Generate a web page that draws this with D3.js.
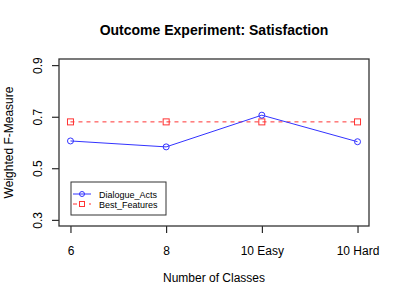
<!DOCTYPE html>
<html>
<head>
<meta charset="utf-8">
<script src="https://cdn.jsdelivr.net/npm/d3@7"></script>
<style>
  body { margin: 0; background: #fff; }
  text { font-family: "Liberation Sans", Arial, sans-serif; fill: #000; }
</style>
</head>
<body>
<svg id="chart"></svg>
<script>
// data
var classes = ["6", "8", "10 Easy", "10 Hard"];
var dialogueActs = [0.606, 0.583, 0.706, 0.603];
var bestFeatures = [0.680, 0.680, 0.680, 0.680];
var yTicks = [0.3, 0.5, 0.7, 0.9];

var width = 400, height = 300;
var margin = {top: 59, right: 31, bottom: 74, left: 59};
var w = width - margin.left - margin.right,
    h = height - margin.top - margin.bottom;

var svg = d3.select("#chart")
  .attr("width", width)
  .attr("height", height);

var g = svg.append("g")
  .attr("transform", "translate(" + margin.left + "," + margin.top + ")");

// R style: 4% padding on each side of the data range
var x = d3.scaleLinear().domain([1 - 0.12, 4 + 0.12]).range([0, w]);
var y = d3.scaleLinear().domain([0.3 - 0.024, 0.9 + 0.024]).range([h, 0]);

// x axis
var xAxis = g.append("g")
  .attr("transform", "translate(0," + h + ")")
  .call(d3.axisBottom(x)
    .tickValues([1, 2, 3, 4])
    .tickFormat(function (d) { return classes[d - 1]; })
    .tickSize(7)
    .tickPadding(13));
xAxis.select(".domain").remove();
xAxis.selectAll("text").style("font-size", "12px");

// y axis, labels rotated like R's default
var yAxis = g.append("g")
  .call(d3.axisLeft(y)
    .tickValues(yTicks)
    .tickFormat(d3.format(".1f"))
    .tickSize(7)
    .tickPadding(0));
yAxis.select(".domain").remove();
yAxis.selectAll("text")
  .style("font-size", "12px")
  .attr("text-anchor", "middle")
  .attr("x", 0)
  .attr("dy", 0)
  .attr("transform", "translate(-17,0) rotate(-90)");

// plot box
g.append("rect")
  .attr("x", 0).attr("y", 0)
  .attr("width", w).attr("height", h)
  .attr("fill", "none")
  .attr("stroke", "#333")
  .attr("stroke-width", 1.3);

// lines
var line = d3.line()
  .x(function (d, i) { return x(i + 1); })
  .y(function (d) { return y(d); });

g.append("path")
  .datum(bestFeatures)
  .attr("d", line)
  .attr("fill", "none")
  .attr("stroke", "#ff3333")
  .attr("stroke-dasharray", "4,4");

g.append("path")
  .datum(dialogueActs)
  .attr("d", line)
  .attr("fill", "none")
  .attr("stroke", "#3333ff");

g.selectAll(".sq")
  .data(bestFeatures)
  .enter()
  .append("rect")
    .attr("x", function (d, i) { return x(i + 1) - 3; })
    .attr("y", function (d) { return y(d) - 3; })
    .attr("width", 6).attr("height", 6)
    .attr("fill", "none")
    .attr("stroke", "#ff3333");

g.selectAll(".dot")
  .data(dialogueActs)
  .enter()
  .append("circle")
    .attr("cx", function (d, i) { return x(i + 1); })
    .attr("cy", function (d) { return y(d); })
    .attr("r", 3)
    .attr("fill", "none")
    .attr("stroke", "#3333ff");

// legend
var legend = svg.append("g").attr("transform", "translate(71,182)");
legend.append("rect")
  .attr("width", 95).attr("height", 33)
  .attr("fill", "#fff")
  .attr("stroke", "#333");

var leg = [
  {name: "Dialogue_Acts", color: "#3333ff", dash: null, shape: "circle"},
  {name: "Best_Features", color: "#ff3333", dash: "4,4", shape: "square"}
];
leg.forEach(function (d, i) {
  var yy = 12 + i * 10;
  legend.append("line")
    .attr("x1", 2).attr("x2", 20)
    .attr("y1", yy).attr("y2", yy)
    .attr("stroke", d.color)
    .attr("stroke-dasharray", d.dash);
  if (d.shape == "circle") {
    legend.append("circle")
      .attr("cx", 11).attr("cy", yy).attr("r", 2.5)
      .attr("fill", "none").attr("stroke", d.color);
  } else {
    legend.append("rect")
      .attr("x", 8.5).attr("y", yy - 2.5).attr("width", 5).attr("height", 5)
      .attr("fill", "#fff").attr("stroke", d.color);
  }
  legend.append("text")
    .attr("x", 28).attr("y", yy + 3.5)
    .style("font-size", "9px")
    .text(d.name);
});

// titles
svg.append("text")
  .attr("x", margin.left + w / 2)
  .attr("y", 35)
  .attr("text-anchor", "middle")
  .style("font-size", "14px")
  .style("font-weight", "bold")
  .text("Outcome Experiment: Satisfaction");

svg.append("text")
  .attr("x", margin.left + w / 2)
  .attr("y", 282)
  .attr("text-anchor", "middle")
  .style("font-size", "12px")
  .text("Number of Classes");

svg.append("text")
  .attr("transform", "translate(13," + (margin.top + h / 2) + ") rotate(-90)")
  .attr("text-anchor", "middle")
  .style("font-size", "12px")
  .text("Weighted F-Measure");
</script>
</body>
</html>
